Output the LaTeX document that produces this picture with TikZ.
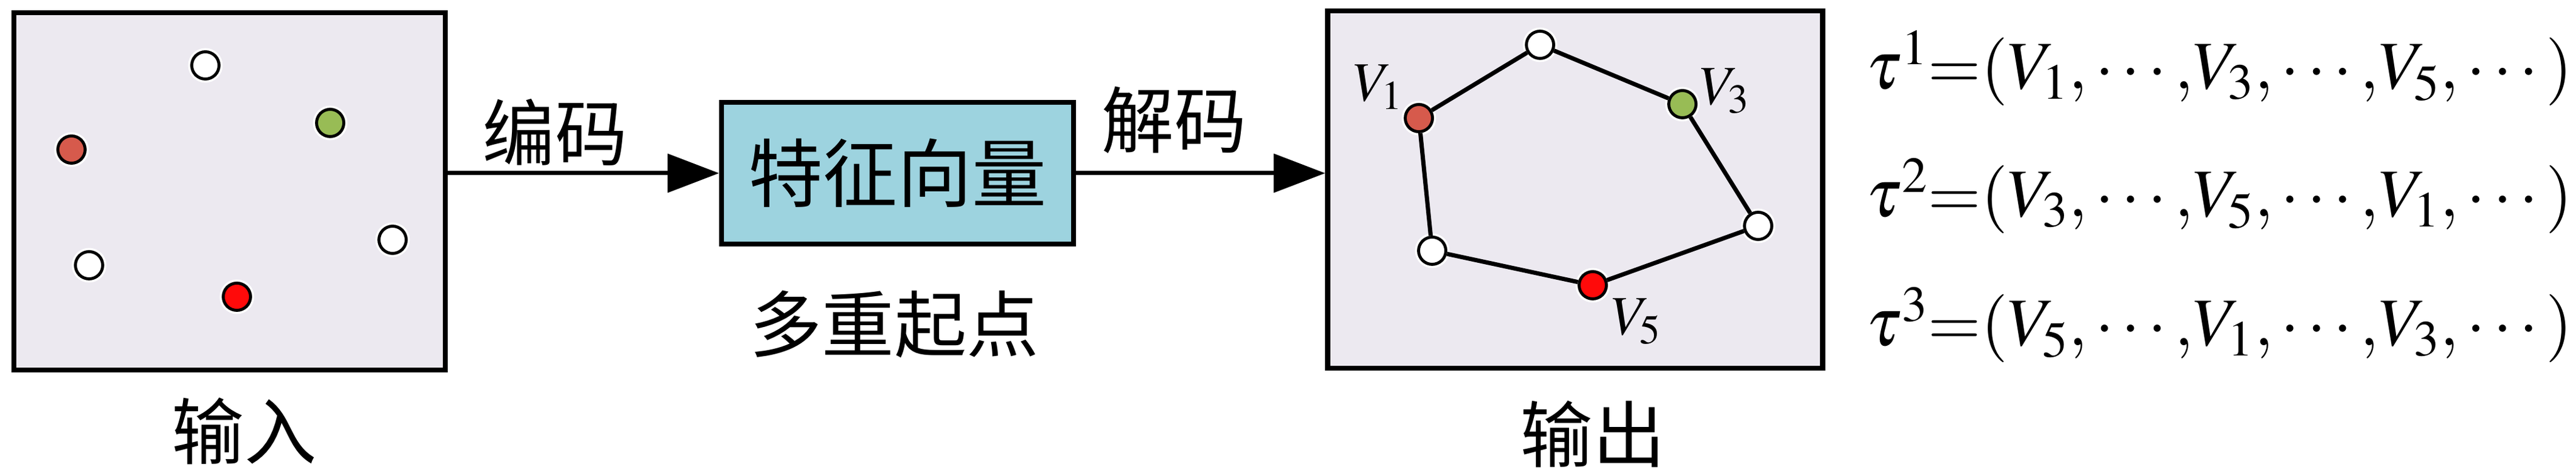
\documentclass[tikz,border=0pt]{standalone}
\usepackage{amsmath}
\usepackage{mathptmx}
\usepackage{fontspec}
\newfontfamily\cjk{Noto Sans CJK SC}
\usepackage{tikz}
\usetikzlibrary{arrows.meta,positioning,calc}
\usepackage{xcolor}
\definecolor{panelgray}{HTML}{ECE9F0}
\definecolor{featblue}{HTML}{9DD3DF}
\definecolor{startbrown}{HTML}{D65A4C}
\definecolor{startgreen}{HTML}{98BC55}
\definecolor{startred}{HTML}{FF0A0A}

\makeatletter
\newcommand{\tourseq}[4]{$\tau^{#1}{=}\bBigg@{0.9}(V_{#2}{,}\cdots{,}V_{#3}{,}\cdots{,}V_{#4}{,}\cdots\bBigg@{0.9})$}
\makeatother

\tikzset{
  panel/.style={draw, line width=2.3pt, fill=panelgray, inner sep=0pt},
  featbox/.style={draw, line width=2.3pt, fill=featblue, inner sep=0pt, font=\cjk\fontsize{35}{40}\selectfont},
  vert/.style={circle, draw, line width=1.4pt, fill=white, minimum size=0.45cm, inner sep=0pt, preaction={draw=white, line width=3.4pt}},
  cjklbl/.style={font=\cjk\fontsize{34}{40}\selectfont, inner sep=0pt},
  vlbl/.style={font=\fontsize{26}{30}\selectfont, inner sep=0pt},
  eqn/.style={font=\fontsize{32}{38}\selectfont, inner sep=0pt, anchor=west},
  flow/.style={-{Triangle[length=8.5mm,width=6.3mm]}, line width=2pt},
  edge/.style={-, line width=2pt}
}

\begin{document}
\begin{tikzpicture}
\useasboundingbox (0,0) rectangle (42.52,7.86);

% input
\node[panel, minimum width=7.12cm, minimum height=5.9cm] (in) at (3.79,4.70) {};
\node[vert] (a1) at (3.39,6.78) {};
\node[vert, fill=startgreen] (a2) at (5.45,5.83) {};
\node[vert, fill=startbrown] (a3) at (1.18,5.39) {};
\node[vert] (a4) at (1.47,3.48) {};
\node[vert, fill=startred] (a5) at (3.91,2.96) {};
\node[vert] (a6) at (6.48,3.90) {};
\node[cjklbl] (inlbl) at (4.03,0.74) {输入};

% feature vector
\node[featbox, minimum width=5.81cm, minimum height=2.34cm] (feat) at (14.815,5.0) {特征向量};
\node[cjklbl] (multi) at (14.76,2.51) {多重起点};

% output
\node[panel, minimum width=8.17cm, minimum height=5.9cm] (out) at (26.0,4.73) {};
\node[vert] (b1) at (25.42,7.12) {};
\node[vert, fill=startbrown] (b2) at (23.42,5.91) {};
\node[vert, fill=startgreen] (b3) at (27.77,6.14) {};
\node[vert] (b4) at (29.02,4.13) {};
\node[vert, fill=startred] (b5) at (26.29,3.15) {};
\node[vert] (b6) at (23.64,3.72) {};
\draw[edge] (b2) -- (b1) -- (b3) -- (b4) -- (b5) -- (b6) -- (b2);
\node[vlbl] (v1) at (22.75,6.42) {$V_1$};
\node[vlbl] (v3) at (28.47,6.36) {$V_3$};
\node[vlbl] (v5) at (27.01,2.55) {$V_5$};
\node[cjklbl] (outlbl) at (26.29,0.69) {输出};

% arrows
\draw[flow] (feat.west -| in.east) -- (feat.west);
\node[cjklbl] (enc) at (9.16,5.67) {编码};
\draw[flow] (feat.east) -- (feat.east -| out.west);
\node[cjklbl] (dec) at (19.38,5.88) {解码};

% tours
\node[eqn] (t1) at (30.8,6.71) {\tourseq{1}{1}{3}{5}};
\node[eqn] (t2) at (30.8,4.60) {\tourseq{2}{3}{5}{1}};
\node[eqn] (t3) at (30.8,2.47) {\tourseq{3}{5}{1}{3}};

\end{tikzpicture}
\end{document}
